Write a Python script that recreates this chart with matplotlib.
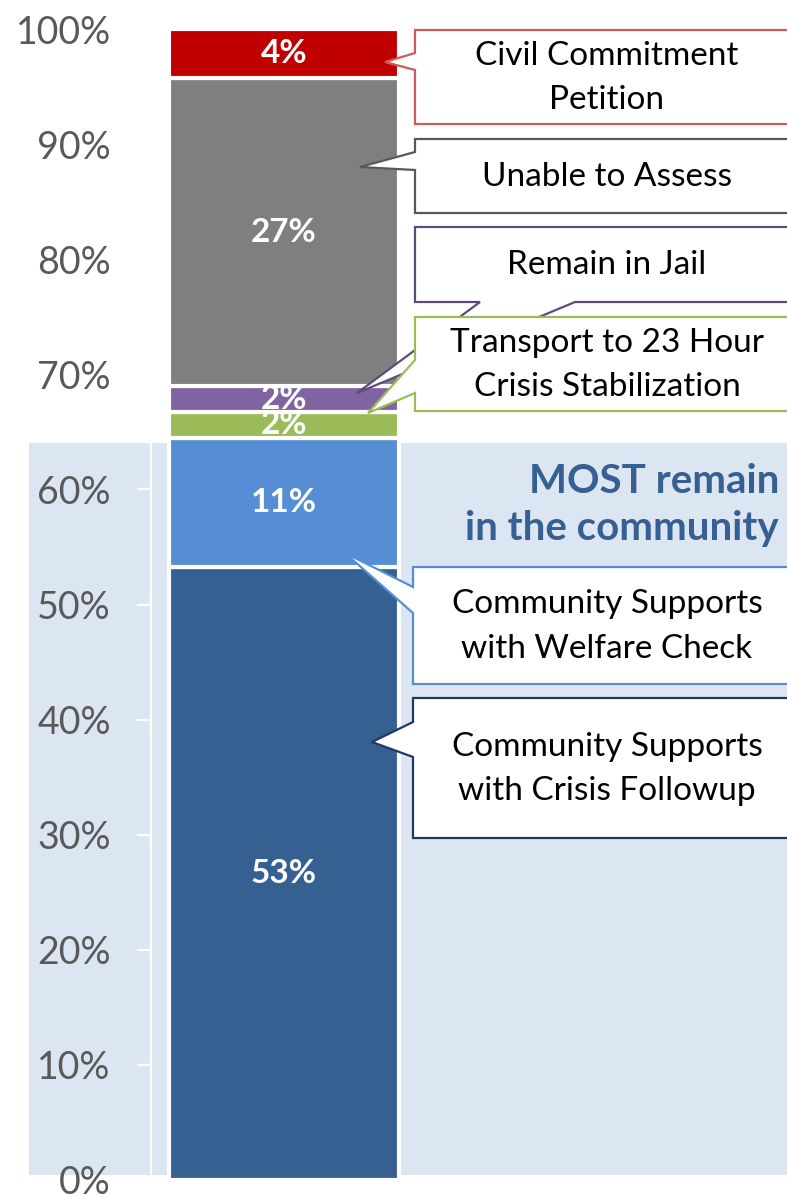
import matplotlib
matplotlib.use('Agg')
import matplotlib.pyplot as plt
from matplotlib.patches import Polygon, Rectangle

plt.rcParams['font.family'] = ['Lato', 'DejaVu Sans']

# ── Outcome shares (bottom to top of the stack) ───────────────────────────────
outcomes = ['Community Supports with Crisis Followup',
            'Community Supports with Welfare Check',
            'Transport to 23 Hour Crisis Stabilization',
            'Remain in Jail',
            'Unable to Assess',
            'Civil Commitment Petition']
shares = [53.3, 11.2, 2.2, 2.3, 26.7, 4.3]
seg_colors = ['#366092', '#558ED5', '#9BBB59', '#8064A2', '#7F7F7F', '#C00000']
yticks = [0, 10, 20, 30, 40, 50, 60, 70, 80, 90, 100]

W, H = 787, 1195
fig = plt.figure(figsize=(W / 100, H / 100), dpi=100)


def fx(x):
    return x / W


def fy(y):
    return 1 - y / H


ax = fig.add_axes([fx(151), fy(1180), 1 - fx(151), fy(29) - fy(1180)])
ax.set_facecolor('none')

# shaded "community" band behind the bar
panel = '#DCE6F2'
for x0, x1 in [(29, 167), (401, 800)]:
    fig.add_artist(Rectangle((fx(x0), fy(1175)), fx(x1) - fx(x0), fy(443) - fy(1175),
                             transform=fig.transFigure, facecolor=panel,
                             edgecolor='none', zorder=-1))

bottom = 0
for v, c in zip(shares, seg_colors):
    ax.bar(0.209, v, width=0.362, bottom=bottom, color=c,
           edgecolor='white', linewidth=3)
    ax.text(0.209, bottom + v / 2, f'{v:.0f}%', ha='center', va='center',
            color='white', fontsize=24, fontweight='bold')
    bottom += v

ax.set_xlim(0, 1)
ax.set_ylim(0, 100)
ax.set_yticks(yticks)
ax.set_yticklabels([f'{t}%' for t in yticks])
ax.set_xticks([])
ax.tick_params(axis='y', colors='white', length=10, width=1.5, pad=19,
               labelsize=27, labelcolor='#595959')
for s in ['top', 'right', 'bottom']:
    ax.spines[s].set_visible(False)
ax.spines['left'].set_color('white')
ax.spines['left'].set_linewidth(1.5)


# ── Callout boxes ─────────────────────────────────────────────────────────────
def callout(top, bot, notch, tip, text, edge, left=415, right=800, side='left'):
    if side == 'left':
        pts = [(left, top), (right, top), (right, bot), (left, bot),
               (left, notch[1]), tip, (left, notch[0])]
    else:
        pts = [(left, top), (right, top), (right, bot), (notch[1], bot),
               tip, (notch[0], bot), (left, bot)]
    poly = Polygon([(fx(x), fy(y)) for x, y in pts], closed=True,
                   transform=fig.transFigure, facecolor='white',
                   edgecolor=edge, linewidth=1.6, zorder=5)
    fig.add_artist(poly)
    fig.text(fx(607), fy((top + bot) / 2 + 1), text, ha='center', va='center',
             fontsize=24, color='black', linespacing=1.6, zorder=6)


callout(30, 124, (53, 70), (385, 62), 'Civil Commitment\nPetition', '#D05A57')
callout(139, 213, (152, 170), (360, 167), 'Unable to Assess', '#595959')
callout(227, 302, (480, 575), (357, 393), 'Remain in Jail', '#604A7B', side='bottom')
callout(317, 411, (360, 393), (368, 413),
        'Transport to 23 Hour\nCrisis Stabilization', '#9BBB59')
callout(567, 684, (587, 613), (345, 553),
        'Community Supports\nwith Welfare Check', '#558ED5', left=413)
callout(698, 838, (722, 757), (372, 742),
        'Community Supports\nwith Crisis Followup', '#1F3864', left=413)

fig.text(fx(779), fy(505), 'MOST remain\nin the community', ha='right', va='center',
         fontsize=29, fontweight='bold', color='#366092', linespacing=1.35)

fig.savefig('out.png', dpi=100)
